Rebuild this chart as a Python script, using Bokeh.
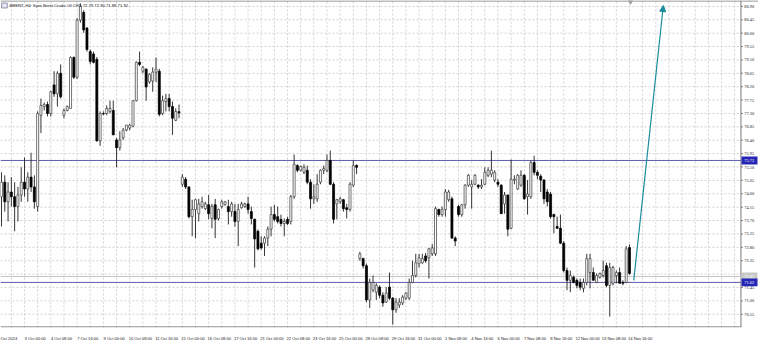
from bokeh.plotting import figure
from bokeh.models import ColumnDataSource, FixedTicker, Label, Arrow, NormalHead
from bokeh.embed import file_html
from bokeh.resources import INLINE

# ---------------- data (H4 bars, BRENT) ----------------
opens = [74.50, 74.99, 74.33, 74.66, 74.50, 74.17, 74.56, 74.99, 74.76, 75.16, 74.83, 74.17,
         77.24, 77.53, 77.60, 77.30, 78.26, 77.96, 78.65, 77.24, 77.40, 77.47, 79.18, 78.52, 80.44,
         80.70, 80.17, 79.38, 79.30, 79.12, 76.38, 77.30, 77.30, 77.37, 77.40, 76.41, 76.15, 76.48,
         76.74, 76.81, 76.87, 77.73, 79.02, 78.72, 78.79, 78.36, 78.39, 78.69, 78.72, 77.30, 77.70,
         77.80, 77.53, 77.07, 77.36,
         74.92, 75.09, 74.83, 73.83, 74.07, 73.93, 74.17, 74.10, 74.23, 73.77, 74.23, 73.77, 74.17,
         74.23, 74.17, 74.00, 74.00, 73.67, 74.13, 74.17, 74.26, 74.00, 73.74, 73.34, 72.94, 72.94,
         73.11, 73.41, 73.90, 73.83, 73.74, 73.60, 73.74, 73.67, 74.50, 75.55, 75.39, 75.32, 75.39,
         74.99, 74.43, 74.43, 74.99, 75.39, 75.39, 75.72, 74.92, 74.26, 74.33, 74.40, 74.13, 74.07,
         74.89, 75.55,
         72.42, 72.42, 72.18, 71.03, 71.36, 71.29, 71.46, 71.19, 70.96, 71.46, 71.09, 70.70, 70.86,
         70.93, 71.09, 71.09, 71.62, 71.85, 72.25, 72.28, 72.51, 72.45, 72.58, 72.58, 74.07, 73.90,
         74.07, 74.40, 74.43, 73.11, 74.17, 73.90, 74.23, 74.89, 74.83, 74.92, 74.89, 74.83, 74.92,
         75.22, 75.26, 75.06, 74.99, 74.89, 74.26, 74.56, 73.44, 75.06, 74.76, 74.89, 75.22, 74.50,
         74.50, 75.65, 75.32, 75.19, 75.06, 74.66, 74.59, 73.90, 73.50, 73.44, 72.94, 72.02, 71.69,
         71.79, 71.69, 71.62, 71.42, 71.62, 71.95, 71.95, 71.62, 71.79, 71.85, 72.18, 71.52, 71.59,
         71.85, 71.95, 71.62, 71.62, 72.79]
highs = [75.32, 75.22, 74.99, 75.16, 74.99, 74.83, 75.49, 75.82, 75.32, 75.98, 75.22, 77.37,
         77.80, 77.67, 77.70, 78.06, 78.72, 78.72, 78.95, 77.47, 77.57, 79.22, 79.22, 80.50, 81.00,
         80.77, 80.21, 79.45, 79.38, 79.20, 77.37, 77.37, 77.57, 77.73, 77.73, 76.48, 76.70, 76.81,
         76.91, 76.95, 77.73, 79.05, 79.38, 78.90, 78.82, 78.65, 78.85, 79.18, 78.80, 77.90, 77.96,
         77.96, 77.70, 77.47, 77.60,
         75.26, 75.16, 74.85, 74.40, 74.43, 74.43, 74.50, 74.33, 74.56, 74.26, 74.43, 74.10, 74.40,
         74.36, 74.40, 74.33, 74.26, 74.26, 74.33, 74.30, 74.50, 74.17, 73.77, 73.40, 73.17, 73.17,
         73.50, 74.17, 74.23, 74.17, 73.90, 73.77, 73.83, 74.56, 75.92, 75.59, 75.55, 75.59, 75.55,
         75.09, 74.92, 75.26, 75.42, 75.55, 75.92, 76.05, 74.99, 74.43, 74.50, 74.43, 74.26, 74.99,
         75.72, 75.59,
         72.65, 72.45, 72.25, 71.75, 71.85, 71.59, 71.52, 71.29, 71.46, 71.95, 71.13, 71.09, 71.09,
         71.19, 71.29, 71.75, 72.35, 72.58, 72.58, 72.58, 72.61, 72.78, 72.91, 74.17, 74.10, 74.17,
         74.76, 74.73, 74.50, 73.17, 74.23, 74.26, 74.92, 75.26, 75.06, 75.26, 74.92, 75.09, 75.49,
         75.49, 76.05, 75.39, 75.09, 74.92, 74.66, 74.56, 75.75, 75.22, 75.26, 75.39, 75.26, 75.06,
         75.72, 75.88, 75.39, 75.26, 75.09, 74.76, 74.66, 73.93, 73.83, 73.90, 73.01, 72.12, 72.02,
         71.85, 71.75, 71.75, 71.75, 72.58, 72.58, 72.12, 71.92, 71.95, 72.35, 72.28, 72.28, 72.18,
         72.02, 72.12, 71.69, 72.84, 72.90]
lows = [73.50, 74.00, 73.67, 74.17, 73.34, 73.67, 74.33, 74.50, 74.33, 74.66, 74.10, 74.00,
        76.64, 77.40, 77.20, 77.20, 77.86, 77.53, 77.80, 77.14, 77.37, 77.47, 78.46, 78.46, 80.35,
        80.01, 79.38, 78.95, 78.98, 76.35, 76.21, 77.24, 77.24, 77.30, 76.58, 75.49, 76.05, 76.41,
        76.70, 76.74, 76.84, 77.70, 78.89, 78.65, 77.73, 78.30, 78.03, 78.36, 77.20, 77.24, 77.37,
        77.37, 76.58, 77.04, 77.14,
        74.83, 74.76, 73.77, 73.17, 73.11, 73.67, 74.10, 74.05, 73.74, 73.44, 73.11, 73.70, 74.10,
        74.20, 73.57, 73.83, 73.50, 72.84, 74.10, 74.13, 73.93, 73.57, 72.12, 72.70, 72.72, 72.51,
        72.84, 73.17, 73.67, 73.60, 73.50, 73.17, 73.55, 73.57, 74.43, 75.32, 75.35, 75.26, 74.92,
        74.10, 74.26, 74.33, 74.92, 75.26, 75.32, 74.89, 73.60, 73.74, 74.26, 74.00, 73.77, 74.00,
        74.83, 75.26,
        72.35, 72.09, 70.96, 70.76, 71.29, 71.03, 71.09, 70.80, 70.93, 71.03, 70.20, 70.60, 70.76,
        70.86, 71.03, 71.03, 71.59, 71.79, 72.12, 72.25, 72.28, 71.75, 72.51, 72.51, 73.83, 73.83,
        73.83, 74.33, 73.08, 72.84, 73.83, 73.83, 74.10, 74.83, 74.10, 74.89, 74.76, 74.76, 74.89,
        75.16, 75.16, 74.99, 74.83, 73.93, 73.93, 73.17, 73.41, 74.92, 74.73, 74.83, 74.40, 73.90,
        74.43, 75.22, 75.09, 74.66, 74.26, 74.17, 73.77, 73.27, 73.41, 72.91, 71.95, 71.36, 71.29,
        71.59, 71.42, 71.36, 71.29, 71.52, 71.42, 71.69, 71.59, 71.75, 71.79, 71.46, 70.47, 71.52,
        71.59, 71.59, 71.52, 71.59, 71.88]
closes = [74.99, 74.33, 74.66, 74.50, 74.17, 74.56, 74.99, 74.76, 75.16, 74.83, 74.33, 77.30,
          77.57, 77.60, 77.30, 78.03, 77.96, 78.65, 77.86, 77.40, 77.53, 79.18, 78.52, 80.44, 80.90,
          80.11, 79.45, 79.05, 79.02, 76.38, 77.30, 77.28, 77.47, 77.47, 76.58, 76.15, 76.41, 76.74,
          76.91, 76.91, 77.73, 79.02, 78.95, 78.85, 78.19, 78.62, 78.69, 78.79, 77.27, 77.73, 77.80,
          77.53, 77.14, 77.37, 77.32,
          75.16, 74.83, 73.83, 74.07, 74.40, 74.26, 74.33, 74.26, 73.93, 74.17, 73.74, 74.07, 74.33,
          74.33, 74.00, 74.26, 73.67, 74.07, 74.26, 74.26, 74.07, 73.77, 73.08, 72.75, 72.78, 73.11,
          73.41, 73.90, 73.74, 73.67, 73.60, 73.67, 73.60, 74.50, 75.59, 75.39, 75.52, 75.49, 74.99,
          74.43, 74.50, 74.92, 75.39, 75.45, 75.72, 74.92, 73.74, 74.40, 74.43, 74.10, 74.07, 74.92,
          75.55, 75.49,
          72.58, 72.18, 71.03, 71.62, 71.62, 71.52, 71.19, 70.93, 71.26, 71.09, 70.70, 70.96, 70.96,
          71.13, 71.26, 71.62, 71.85, 72.28, 72.45, 72.42, 72.35, 72.75, 72.78, 74.10, 73.90, 74.07,
          74.66, 74.66, 73.11, 73.01, 73.90, 74.23, 74.89, 75.22, 74.92, 75.22, 74.83, 74.89, 75.32,
          75.39, 75.39, 75.32, 74.92, 73.93, 74.56, 73.41, 75.09, 75.09, 75.22, 75.22, 74.43, 74.59,
          75.65, 75.32, 75.22, 75.06, 74.43, 74.33, 73.83, 73.83, 73.44, 72.94, 72.02, 71.69, 71.85,
          71.62, 71.52, 71.46, 71.62, 72.42, 72.42, 71.69, 71.85, 71.92, 72.02, 71.52, 72.12, 72.12,
          71.95, 71.59, 71.59, 72.75, 71.92]

# time-axis labels: one every 8 bars, first one at bar -1
time_labels = ["Oct 2024", "3 Oct 00:00", "4 Oct 08:00", "7 Oct 16:00", "9 Oct 00:00",
               "10 Oct 08:00", "11 Oct 16:00", "15 Oct 00:00", "16 Oct 08:00", "17 Oct 16:00",
               "21 Oct 00:00", "22 Oct 08:00", "23 Oct 16:00", "25 Oct 00:00", "28 Oct 08:00",
               "29 Oct 16:00", "31 Oct 00:00", "1 Nov 08:00", "4 Nov 16:00", "6 Nov 00:00",
               "7 Nov 08:00", "8 Nov 16:00", "12 Nov 00:00", "13 Nov 08:00", "14 Nov 16:00"]
price_ticks = [80.90, 80.45, 80.00, 79.55, 79.10, 78.65, 78.20, 77.75, 77.30, 76.85, 76.40,
               75.95, 75.50, 75.05, 74.60, 74.15, 73.70, 73.25, 72.80, 72.35, 71.90, 71.45,
               71.00, 70.55]
price_tick_labels = ["80.90", "80.45", "80.00", "79.55", "79.10", "78.65", "78.20", "77.75",
                     "77.30", "76.85", "76.40", "75.95", "75.50", "75.05", "74.60", "74.15",
                     "73.70", "73.25", "72.80", "72.35", "71.90", "71.45", "71.00", "70.55"]
level_high = 75.72
level_low = 71.62
bid_price = 71.82
tag_prices = [75.72, 71.82, 71.62]
tag_texts = ["75.72", "71.82", "71.62"]
arrow_from = (192.3, 71.69)
arrow_to = (201.3, 80.93)
title_text = "BRENT, H4:  Spot Brent Crude Oil CFD  72.79 72.90 71.88 71.92"

# ---------------- layout constants (chart geometry, not data) ----------------
X0, X1 = -0.3, 230.24          # full canvas width (758 px, 3.288 px per bar)
Y0, Y1 = 70.104, 81.098        # frame height 333 px
AX = 224.9                     # price-scale separator (x ~ 740 px)
PX = 1 / 30.29                 # one pixel in price units
FONT = "Liberation Sans"

n = len(opens)
idx = list(range(n))
tops = [max(o, c) for o, c in zip(opens, closes)]
bots = [min(o, c) for o, c in zip(opens, closes)]
bull = [c >= o for o, c in zip(opens, closes)]

src_bull = ColumnDataSource(dict(x=[i for i in idx if bull[i]],
                                 top=[tops[i] for i in idx if bull[i]],
                                 bottom=[bots[i] for i in idx if bull[i]]))
src_bear = ColumnDataSource(dict(x=[i for i in idx if not bull[i]],
                                 top=[tops[i] for i in idx if not bull[i]],
                                 bottom=[bots[i] for i in idx if not bull[i]]))
src_wick = ColumnDataSource(dict(x=idx, high=highs, low=lows))

p = figure(width=758, height=343, x_range=(X0, X1), y_range=(Y0, Y1),
           output_backend="svg", toolbar_location=None, y_axis_location=None,
           min_border_left=0, min_border_top=0, min_border_right=0, min_border_bottom=10)
p.background_fill_color = "white"
p.border_fill_color = "white"
p.outline_line_color = None
p.grid.visible = False

# dashed grid, limited to the chart area (left of the price scale)
vgrid = [k * 4 - 1 for k in range(0, 57)]
p.segment(x0=vgrid, y0=[Y0] * len(vgrid), x1=vgrid, y1=[Y1] * len(vgrid),
          line_color="#d2d2d2", line_dash="2 2", line_width=1)
p.segment(x0=[X0] * len(price_ticks), y0=price_ticks, x1=[AX] * len(price_ticks), y1=price_ticks,
          line_color="#d2d2d2", line_dash="2 2", line_width=1)

# frame lines
p.segment(x0=[AX, X0, X0], y0=[Y0, Y0 + 0.6 * PX, Y1 - 0.5 * PX],
          x1=[AX, AX, X1], y1=[Y1, Y0 + 0.6 * PX, Y1 - 0.5 * PX],
          line_color="#7a7a7a", line_width=1)

# price scale: ticks and labels
p.segment(x0=[AX] * len(price_ticks), y0=price_ticks, x1=[AX + 0.6] * len(price_ticks), y1=price_ticks,
          line_color="#7a7a7a", line_width=1)
p.text(x=[AX + 1.0] * len(price_ticks), y=price_ticks, text=price_tick_labels,
       text_font_size="4.4px", text_font="Liberation Sans", text_color="#222222",
       text_align="left", text_baseline="middle")

# x axis: labels start at their bar (MetaTrader style) -> centre offset
label_pos = [k * 8 - 1 + 3.25 for k in range(len(time_labels))]
p.xaxis.ticker = FixedTicker(ticks=label_pos)
p.xaxis.major_label_overrides = {pos: lab for pos, lab in zip(label_pos, time_labels)}
p.xaxis.major_tick_line_color = None
p.xaxis.minor_tick_line_color = None
p.xaxis.axis_line_color = None
p.xaxis.major_label_standoff = 2
p.xaxis.major_label_text_font = FONT
p.xaxis.major_label_text_font_size = "4.1px"
p.xaxis.major_label_text_color = "#222222"

# levels
p.segment(x0=[X0] * 3, y0=[bid_price, level_high, level_low], x1=[AX] * 3,
          y1=[bid_price, level_high, level_low],
          line_color=["#c4c4c4", "#5c5cae", "#5c5cae"], line_width=1)

# candles
p.segment(x0="x", y0="low", x1="x", y1="high", source=src_wick, line_color="#1e1e1e", line_width=0.9)
p.vbar(x="x", width=0.62, top="top", bottom="bottom", source=src_bull,
       fill_color="white", line_color="#3a3a3a", line_width=0.7)
p.vbar(x="x", width=0.62, top="top", bottom="bottom", source=src_bear,
       fill_color="black", line_color="black", line_width=0.7)

# price tags on the scale
p.rect(x=[227.5] * 3, y=tag_prices, width=4.87, height=8 * PX,
       fill_color=["#2626b4", "#c8c8c8", "#2626b4"], line_color=None)
p.text(x=[AX + 1.0] * 3, y=tag_prices, text=tag_texts, text_font_size="4.4px",
       text_font="Liberation Sans", text_color="white", text_align="left", text_baseline="middle")

# chart-shift marker at the top edge
p.scatter(x=[191.3], y=[Y1 - 1.5 * PX], marker="inverted_triangle", size=4,
          fill_color="#a0a0a0", line_color="#a0a0a0")

# small symbol icon before the title
p.rect(x=[0.9], y=[80.93], width=1.7, height=5 * PX, fill_color="#e8e8f4",
       line_color="#7a7a9a", line_width=0.8)

# arrow
p.add_layout(Arrow(x_start=arrow_from[0], y_start=arrow_from[1], x_end=arrow_to[0], y_end=arrow_to[1],
                   line_color="#1a8c9c", line_width=1.2,
                   end=NormalHead(size=6, fill_color="#1a8c9c", line_color="#1a8c9c")))

# title
p.add_layout(Label(x=2.4, y=80.93, text=title_text, text_font=FONT, text_font_size="4.2px",
                   text_color="#222222", text_baseline="middle"))

open("out.html", "w").write(file_html(p, INLINE))
